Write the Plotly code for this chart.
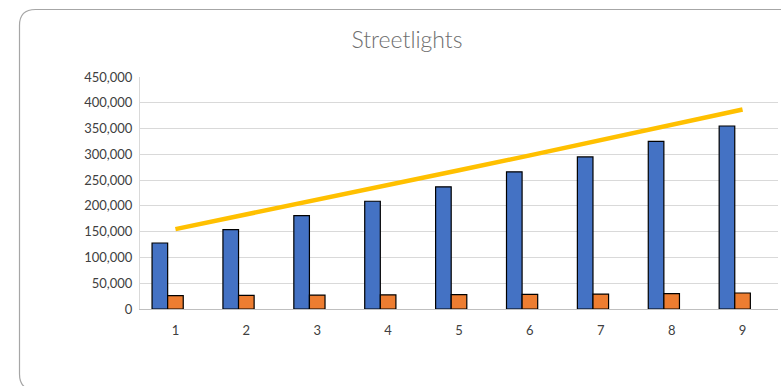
import plotly.graph_objects as go

categories = [1, 2, 3, 4, 5, 6, 7, 8, 9]
series_blue = [128000, 154000, 181000, 209000, 237000, 266000, 295000, 325000, 355000]
series_orange = [26000, 26500, 27000, 27500, 28000, 28500, 29000, 30000, 31000]
series_line = [155000, 183000, 212000, 240000, 269000, 298000, 328000, 357000, 387000]
y_tickvals = [0, 50000, 100000, 150000, 200000, 250000, 300000, 350000, 400000, 450000]
title_text = "Streetlights"

W, H = 781, 386
ML, MR, MT, MB = 140, 3, 77, 77
PW = W - ML - MR
PH = H - MT - MB

def px(x):
    return (x - ML) / PW

def py(y):
    return (H - MB - y) / PH

FONT = "Lato"

fig = go.Figure()
fig.add_trace(go.Bar(x=categories, y=series_blue, width=0.22, offset=-0.33,
                     marker=dict(color="#4472C4", line=dict(color="#000000", width=1.2)),
                     showlegend=False))
fig.add_trace(go.Bar(x=categories, y=series_orange, width=0.22, offset=-0.11,
                     marker=dict(color="#ED7D31", line=dict(color="#000000", width=1.2)),
                     showlegend=False))
fig.add_trace(go.Scatter(x=categories, y=series_line, mode="lines",
                         line=dict(color="#FFC000", width=4.5), showlegend=False))

# rounded chart border
l, t, r, b, rad = 19.5, 9.5, 800, 390, 16
path = (f"M {px(l)},{py(t+rad)} Q {px(l)},{py(t)} {px(l+rad)},{py(t)} "
        f"L {px(r)},{py(t)} L {px(r)},{py(b)} L {px(l+rad)},{py(b)} "
        f"Q {px(l)},{py(b)} {px(l)},{py(b-rad)} Z")
fig.add_shape(type="path", path=path, xref="paper", yref="paper",
              line=dict(color="#A6A6A6", width=1.2), layer="below")

fig.update_layout(
    width=W, height=H,
    margin=dict(l=ML, r=MR, t=MT, b=MB),
    paper_bgcolor="white", plot_bgcolor="white",
    barmode="overlay",
    font=dict(family=FONT, color="#404040", size=13),
    title=dict(text=title_text, x=407 / W, xref="container", xanchor="center",
               y=1 - 40 / H, yref="container", yanchor="middle",
               font=dict(family=FONT, size=23, color="#6E6E6E", weight=300)),
    xaxis=dict(range=[0.5, 9.5], tickmode="array", tickvals=categories,
               ticktext=[str(c) for c in categories],
               showgrid=False, showline=True, linecolor="#BFBFBF", linewidth=1,
               ticks="outside", ticklen=9, tickcolor="rgba(0,0,0,0)",
               tickfont=dict(size=13, color="#404040"), zeroline=False),
    yaxis=dict(range=[0, 450000], tickmode="array", tickvals=y_tickvals,
               tickformat=",", showgrid=True, gridcolor="#D9D9D9", gridwidth=1,
               showline=True, linecolor="#D9D9D9", linewidth=1,
               ticks="outside", ticklen=4, tickcolor="rgba(0,0,0,0)",
               tickfont=dict(size=13, color="#404040"), zeroline=False),
)

fig.write_html("out.html")
